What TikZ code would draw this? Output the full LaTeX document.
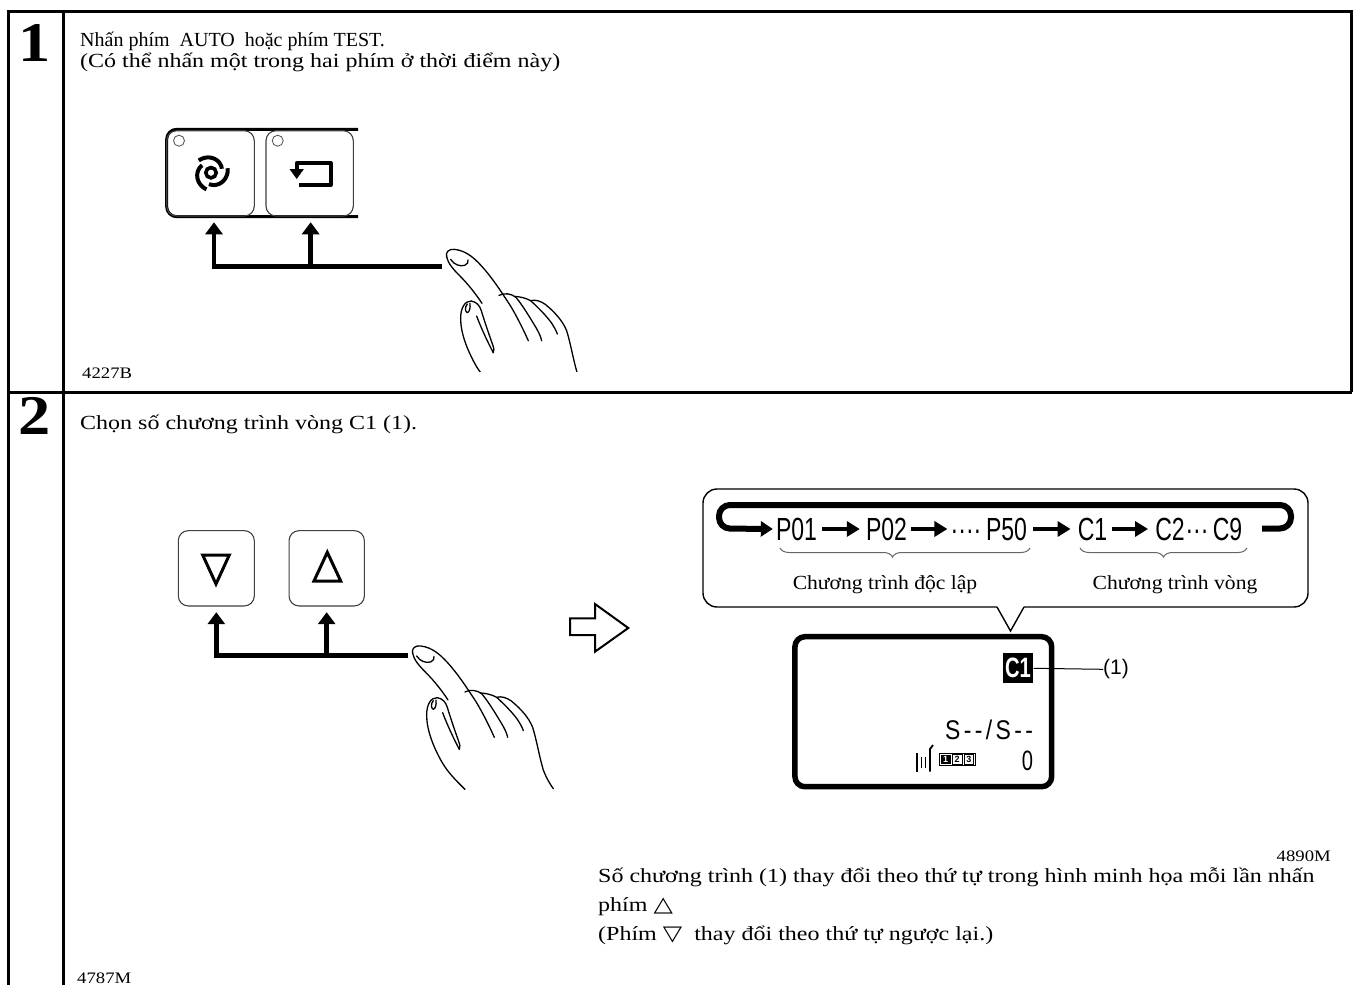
\documentclass[tikz,border=0pt]{standalone}
\usepackage{fontspec}
\usepackage{graphicx}
\setmainfont{Liberation Serif}
\newfontfamily\lcdfont{Liberation Sans}
\newfontfamily\symfont{DejaVu Sans}
\usetikzlibrary{arrows.meta,decorations.pathreplacing,calc}

% condensed display lettering
\newcommand\lcd[2]{\scalebox{0.72}[1]{\lcdfont\fontsize{#1}{#1}\selectfont #2}}
% horizontally scaled running text
\newcommand\wide[2][1.2]{\scalebox{#1}[1]{#2}}

\tikzset{
  gridline/.style={line width=3pt},
  body/.style={anchor=base west, inner sep=0pt, font=\fontsize{20}{22}\selectfont},
  stepno/.style={anchor=base, inner sep=0pt, font=\bfseries\fontsize{56}{56}\selectfont},
  figcode/.style={anchor=base west, inner sep=0pt, font=\fontsize{16}{18}\selectfont},
  keycap/.style={draw=black!75, line width=1.1pt, rounded corners=10pt, inner sep=0pt},
  led/.style={circle, draw=black!70, line width=0.8pt, minimum size=11pt, inner sep=0pt},
  pointer/.style={line width=4.5pt, -{Triangle[width=17pt,length=12pt]}},
  handline/.style={line width=1.3pt, line cap=round, line join=round},
  seqarrow/.style={line width=4.8pt, -{Triangle[width=15pt,length=13pt]}},
  seqtext/.style={anchor=base, inner sep=0pt},
  bracemark/.style={decorate, decoration={brace, amplitude=9pt}, draw=black!60, line width=1pt},
  label/.style={anchor=base, inner sep=0pt, font=\fontsize{20}{22}\selectfont},
  hand/.pic={
    \begin{scope}[shift={(-103,-58)}]
      % index finger, upper edge running into the split
      \draw[handline] (98,70) .. controls (94,55) and (106,46) .. (122,48)
        .. controls (160,52) and (188,80) .. (215,112)
        .. controls (245,148) and (268,185) .. (288,215)
        .. controls (308,248) and (328,288) .. (343,322);
      % underside of the index finger
      \draw[handline] (98,70) .. controls (102,90) and (118,108) .. (138,128)
        .. controls (162,152) and (186,182) .. (204,210);
      % fingernail
      \draw[handline] (110,78) .. controls (120,94) and (138,100) .. (152,96)
        .. controls (160,93) and (164,86) .. (162,80);
      % thumb
      \draw[handline] (172,203) .. controls (152,202) and (140,225) .. (140,255)
        .. controls (140,300) and (160,350) .. (185,395)
        .. controls (205,430) and (232,455) .. (255,478);
      \draw[handline] (172,203) .. controls (188,206) and (197,216) .. (202,232)
        .. controls (212,265) and (224,300) .. (234,328)
        .. controls (240,345) and (242,352) .. (238,358);
      \draw[handline] (188,248) .. controls (200,280) and (218,320) .. (238,358);
      \draw[handline] (160,212) .. controls (152,222) and (153,234) .. (160,238)
        .. controls (166,236) and (170,225) .. (168,210);
      % middle finger
      \draw[handline] (255,186) .. controls (270,178) and (292,180) .. (306,192)
        .. controls (326,216) and (350,256) .. (368,286)
        .. controls (376,300) and (381,312) .. (383,322);
      % ring finger
      \draw[handline] (302,189) .. controls (318,190) and (336,194) .. (350,202)
        .. controls (372,222) and (396,246) .. (412,268)
        .. controls (420,280) and (427,292) .. (430,302);
      % outer edge of the hand
      \draw[handline] (350,202) .. controls (364,198) and (380,203) .. (394,213)
        .. controls (422,236) and (446,262) .. (458,292)
        .. controls (470,330) and (478,380) .. (490,420)
        .. controls (500,446) and (510,462) .. (520,476);
    \end{scope}
  }
}

\begin{document}
\begin{tikzpicture}[x=1pt, y=-1pt]
\useasboundingbox (0,0) rectangle (1358,985);
\fill[white] (0,0) rectangle (1358,985);

% ---------- table grid ----------
\draw[gridline] (8.3,985) -- (8.3,11) -- (1351.7,11) -- (1351.7,392);
\draw[gridline] (8.3,392) -- (1351.7,392);
\draw[gridline] (63.3,11) -- (63.3,985);

% ---------- step 1 ----------
\node[stepno] (n1) at (35,61) {\wide[1.15]{1}};
\node[body] (t1a) at (80,46) {Nhấn phím\ \ AUTO\ \ hoặc phím TEST.};
\node[body] (t1b) at (80,67) {\wide{(Có thể nhấn một trong hai phím ở thời điểm này)}};
\node[figcode] (code1) at (82,378) {\wide[1.17]{4227B}};

% key panel
\draw[line width=3pt, rounded corners=10pt] (358,129.3) -| (166.7,216.7) -- (358,216.7);
\node[keycap, minimum width=87.6pt, minimum height=85.3pt] (kauto) at (210.5,173.35) {};
\node[keycap, minimum width=87.3pt, minimum height=85.3pt] (ktest) at (309.65,173.35) {};
\node[led] (leda) at (179,140.7) {};
\node[led] (ledb) at (277.7,140.7) {};

% AUTO symbol
\begin{scope}[shift={(211,172.7)}, yscale=-1]
  \draw[line width=3.6pt] (0,0) circle (5.2);
  \foreach \a in {20,140,260}
    \draw[line width=4pt, domain=0:115, samples=25, smooth, variable=\t]
      plot ({(11.5+\t/20)*cos(\a+\t)}, {(11.5+\t/20)*sin(\a+\t)});
\end{scope}

% TEST symbol
\draw[line width=3.6pt, line join=round] (299.3,185) -- (330.7,185) -- (330.7,162.7) -- (296.7,162.7) -- (296.7,171);
\fill (289.5,169) -- (303.9,169) -- (296.7,179) -- cycle;

% pointing hand and leader
\begin{scope}
  \clip (380,240) rectangle (620,371);
  \pic[scale=0.33333] (hand1) at (448.3,252.7) {hand};
\end{scope}
\coordinate (h1) at (441.7,266.7);
\coordinate (a1) at ($(kauto.south)+(3.5,5.7)$);
\coordinate (a2) at ($(ktest.south)+(1,5.7)$);
\draw[pointer] (h1) -| (a1);
\draw[pointer] (a2 |- h1) -- (a2);

% ---------- step 2 ----------
\node[stepno] (n2) at (35,434) {\wide[1.15]{2}};
\node[body] (t2) at (80,429) {\wide{Chọn số chương trình vòng C1 (1).}};

\node[keycap, minimum width=76pt, minimum height=75.3pt] (kdown) at (216.3,568.3) {};
\node[keycap, minimum width=75.3pt, minimum height=75.3pt] (kup) at (326.7,568.3) {};
\draw[line width=3pt, line join=miter] (202.7,555) -- (229.3,555) -- (216,584) -- cycle;
\draw[line width=3pt, line join=miter] (314,581) -- (340.7,581) -- (327.3,552.3) -- cycle;

\pic[scale=0.33333] (hand2) at (414.3,649.3) {hand};
\coordinate (h2) at (408,655.7);
\coordinate (a3) at ($(kdown.south)+(0,5.7)$);
\coordinate (a4) at ($(kup.south)+(0,5.7)$);
\draw[pointer] (h2) -| (a3);
\draw[pointer] (a4 |- h2) -- (a4);

% outline arrow
\draw[line width=2pt, line join=miter] (570,618.3) -- (595,618.3) -- (595,604) -- (628.3,628) -- (595,651.7) -- (595,635) -- (570,635) -- cycle;

% callout with the program sequence
\draw[line width=1.4pt, rounded corners=14pt] (997,607) -- (703,607) -- (703,489) -- (1308,489) -- (1308,607) -- (1024,607);
\draw[line width=1.4pt, line join=miter] (997,607) -- (1010.5,631) -- (1024,607);

\node[seqtext] (p01) at (796.5,540) {\lcd{32}{P01}};
\node[seqtext] (p02) at (886.5,540) {\lcd{32}{P02}};
\node[seqtext] (d1) at (966,540) {\lcd{32}{····}};
\node[seqtext] (p50) at (1006.5,540) {\lcd{32}{P50}};
\node[seqtext] (c1) at (1092.5,540) {\lcd{32}{C1}};
\node[seqtext] (c2) at (1170,540) {\lcd{32}{C2}};
\node[seqtext] (d2) at (1197,540) {\lcd{32}{···}};
\node[seqtext] (c9) at (1227.5,540) {\lcd{32}{C9}};

\draw[seqarrow] ([xshift=5pt]p01.east) -- ([xshift=-6pt]p02.west);
\draw[seqarrow] ([xshift=4pt]p02.east) -- ($(p02.east -| d1.west)+(-3,0)$);
\draw[seqarrow] ([xshift=6pt]p50.east) -- ([xshift=-7pt]c1.west);
\draw[seqarrow] ([xshift=5pt]c1.east) -- ([xshift=-7pt]c2.west);
\draw[line width=6pt, rounded corners=11pt, -{Triangle[width=15pt,length=12pt]}]
  (1262,528.5) -- (1291,528.5) -- (1291,505) -- (719,505) -- (719,528.5) -- ([xshift=-3pt]p01.west);

\draw[bracemark, decoration={aspect=0.55}] (1030,548) -- (780,548);
\draw[bracemark] (1247,548) -- (1080,548);
\node[label] (lblind) at (885,589) {\wide[1.08]{Chương trình độc lập}};
\node[label] (lblcyc) at (1175,589) {\wide[1.08]{Chương trình vòng}};

% display panel
\node[draw, line width=5.5pt, rounded corners=10pt, minimum width=256.7pt, minimum height=150pt, inner sep=0pt] (lcd) at (923.3,711.7) {};
\node[fill=black, text=white, minimum width=30.6pt, minimum height=30pt, inner sep=0pt] (sel) at (1018,668.3) {\lcd{28}{\bfseries C1}};
\node[anchor=west, inner sep=0pt, font=\lcdfont\fontsize{21}{21}\selectfont] (callno) at (1103,669.3) {(1)};
\draw[line width=1pt] (sel.east) -- (callno.west);

\node[anchor=base east, inner sep=0pt] (sdisp) at (1033.3,739.3)
  {\scalebox{0.85}[1]{\lcdfont\fontsize{27}{27}\selectfont S\kern4pt-\kern4pt-\kern4pt/\kern4pt S\kern4pt-\kern4pt-}};
\node[anchor=base east, inner sep=0pt] (cnt) at (1033.3,770) {\lcd{28}{0}};

% stand symbol
\draw[line width=1.8pt] (917.3,753) -- (917.3,771.7);
\draw[line width=1.2pt] (921.7,757) -- (921.7,768);
\draw[line width=1.2pt] (925.7,757) -- (925.7,768);
\draw[line width=1.8pt, line join=round] (930,771.7) -- (930,749) -- (933,745);

% counter cells
\node[draw, line width=0.9pt, minimum width=35.7pt, minimum height=12.4pt, inner sep=0pt] (cells) at (957.2,759.5) {};
\node[fill=black, text=white, minimum width=10pt, minimum height=9.5pt, inner sep=0pt, font=\lcdfont\bfseries\fontsize{9}{9}\selectfont] (cell1) at (945.5,759.5) {1};
\node[draw, line width=0.8pt, minimum width=9.5pt, minimum height=9.5pt, inner sep=0pt, font=\lcdfont\bfseries\fontsize{9}{9}\selectfont] (cell2) at (957.2,759.5) {2};
\node[draw, line width=0.8pt, minimum width=9.5pt, minimum height=9.5pt, inner sep=0pt, font=\lcdfont\bfseries\fontsize{9}{9}\selectfont] (cell3) at (968.9,759.5) {3};

\node[figcode, anchor=base east] (code2) at (1331,861) {\wide[1.17]{4890M}};

\node[body] (pa) at (598,882) {\wide{Số chương trình (1) thay đổi theo thứ tự trong hình minh họa mỗi lần nhấn}};
\node[body] (pb) at (598,911) {\wide{phím {\symfont\fontsize{21}{21}\selectfont △}}};
\node[body] (pc) at (598,940) {\wide{(Phím\ {\symfont\fontsize{21}{21}\selectfont ▽}\ \ thay đổi theo thứ tự ngược lại.)}};

\node[figcode] (code3) at (77,983) {\wide[1.17]{4787M}};
\end{tikzpicture}
\end{document}
